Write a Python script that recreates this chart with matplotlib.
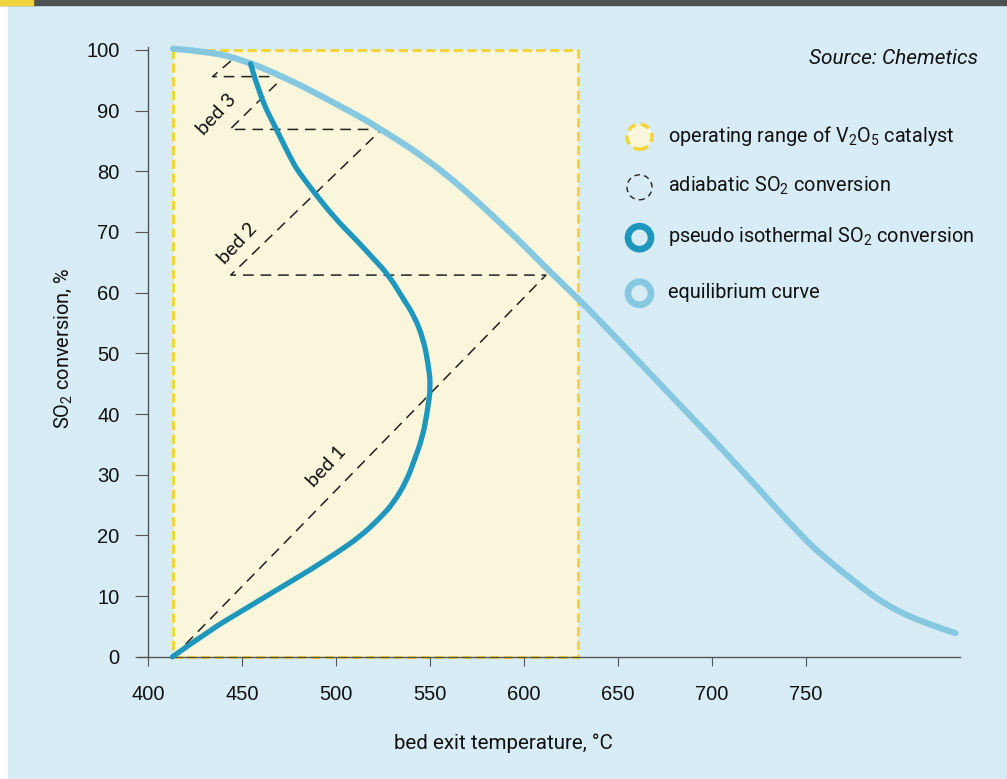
import matplotlib
matplotlib.use("Agg")
import matplotlib.pyplot as plt
from matplotlib.patches import Rectangle, Circle, PathPatch
from matplotlib.path import Path

labfont = 'Roboto'
plain = 'Liberation Sans'
bedfont = 'Lato'

# data
range_t = [413.5, 628.7]          # operating range of V2O5
range_x = [0, 100]

eq_t = [413.4, 432.9, 450.6, 471.9, 494.9, 523.2, 556.8, 592.2, 611.7, 628.5,
        640.0, 679.0, 714.4, 748.0, 762.1, 779.9, 792.3, 810.4, 829.5]
eq_x = [100.2, 99.7, 98.35, 95.6, 92.0, 87.2, 80.2, 70.2, 64.1, 59.1,
        55.5, 42.8, 31.3, 19.7, 15.8, 11.4, 8.6, 5.85, 3.9]

ps_t = [413, 432.9, 450.7, 468.3, 486.2, 500.2, 512.8, 523.2, 530.5, 537.4,
        541.1, 546.2, 548.6, 550.5, 549.0, 546.6, 541.8, 535.6, 528.0, 520.6,
        510.8, 500.2, 487.9, 480.7, 477.3, 468.5, 459.6, 454.6]
ps_x = [0, 4.4, 7.7, 11.0, 14.3, 17.1, 19.8, 22.8, 25.3, 28.9, 31.9, 36.3,
        40.5, 44.5, 48.4, 52.2, 56.1, 59.1, 62.9, 65.4, 68.7, 72.0, 76.7,
        79.7, 81.3, 86.8, 92.3, 97.7]

ad_t = [413.5, 611.7, 444, 524.3, 443.6, 472.3, 434.4, 445.7]
ad_x = [0, 62.9, 62.9, 86.9, 86.9, 95.6, 95.6, 98.6]

bed_labels = ['bed 1', 'bed 2', 'bed 3']
bed_t = [495, 447.5, 436.5]
bed_x = [31.4, 68.1, 89.3]

xticks = [400, 450, 500, 550, 600, 650, 700, 750]
yticks = [0, 10, 20, 30, 40, 50, 60, 70, 80, 90, 100]

bg = '#d8ecf5'
yellow = '#f2d53c'
dark_blue = '#1f96bb'
light_blue = '#86c8e0'


def smooth_path(xs, ys):
    # quadratic bezier through midpoints, the read points act as controls
    pts = list(zip(xs, ys))
    verts = [pts[0]]
    codes = [Path.MOVETO]
    for i in range(1, len(pts) - 1):
        mid = ((pts[i][0] + pts[i + 1][0]) / 2, (pts[i][1] + pts[i + 1][1]) / 2)
        if i == len(pts) - 2:
            mid = pts[-1]
        verts += [pts[i], mid]
        codes += [Path.CURVE3, Path.CURVE3]
    return Path(verts, codes)


fig = plt.figure(figsize=(10.07, 7.79), dpi=100, facecolor='white')
# page background and top bar
fig.patches.append(Rectangle((8/1007, 0), 1, 774/779, transform=fig.transFigure,
                             color=bg, zorder=-10))
fig.patches.append(Rectangle((0, 774/779), 1, 5/779, transform=fig.transFigure,
                             color='#4f5254', zorder=-9))
fig.patches.append(Rectangle((0, 774/779), 33/1007, 5/779, transform=fig.transFigure,
                             color=yellow, zorder=-8))

ax = fig.add_axes([0.1357, 0.1451, 0.8215, 0.822])
ax.set_facecolor('none')
ax.set_xlim(394, 834)
ax.set_ylim(-1.5, 104)

# operating range
ax.add_patch(Rectangle((range_t[0], range_x[0]), range_t[1] - range_t[0],
                       range_x[1] - range_x[0], facecolor='#faf6dc',
                       edgecolor=yellow, linewidth=2.2, linestyle=(0, (3, 1.5)),
                       zorder=1))

ax.plot(ad_t, ad_x, color='#222222', lw=1.1, ls=(0, (7, 4.5)), zorder=2)
ax.add_patch(PathPatch(smooth_path(eq_t, eq_x), facecolor='none',
                       edgecolor=light_blue, lw=4.5, capstyle='round',
                       joinstyle='round', zorder=3))
ax.add_patch(PathPatch(smooth_path(ps_t, ps_x), facecolor='none',
                       edgecolor=dark_blue, lw=3.8, capstyle='round',
                       joinstyle='round', zorder=4))

for lab, t, x in zip(bed_labels, bed_t, bed_x):
    ax.text(t, x, lab, rotation=47, ha='center', va='center', fontsize=14,
            family=bedfont, color='#111111', zorder=5)

# axes
for s in ['top', 'right']:
    ax.spines[s].set_visible(False)
ax.spines['left'].set_position(('data', 400))
ax.spines['bottom'].set_position(('data', 0))
ax.spines['left'].set_bounds(0, 100.5)
ax.spines['bottom'].set_bounds(394.7, 832)
for s in ['left', 'bottom']:
    ax.spines[s].set_color('#555555')
    ax.spines[s].set_linewidth(1.0)
ax.set_xticks(xticks)
ax.set_yticks(yticks)
ax.tick_params(axis='y', length=9.5, width=0.8, color='#555555', pad=11,
               labelsize=14.5)
ax.tick_params(axis='x', length=6.5, width=0.8, color='#555555', pad=14,
               labelsize=14.5)
for lb in ax.get_xticklabels() + ax.get_yticklabels():
    lb.set_family(plain)
    lb.set_color('#111111')

fig.text(503/1007, 1 - 743/779, 'bed exit temperature, °C', family=labfont,
         fontsize=14.8, ha='center', va='center', color='#111111')
fig.text(63/1007, 1 - 348/779, r'SO$_\mathregular{2}$ conversion, %', family=labfont,
         fontsize=14.4, rotation=90, ha='center', va='center', color='#111111')

fig.text(978/1007, 1 - 58/779, 'Source: Chemetics', family=labfont, style='italic',
         fontsize=15, ha='right', va='center', color='#111111')

# legend drawn by hand
leg_y = [136.7, 187.3, 237.7, 293.3]
leg_text = [r'operating range of V$_\mathregular{2}$O$_\mathregular{5}$ catalyst',
            r'adiabatic SO$_\mathregular{2}$ conversion',
            r'pseudo isothermal SO$_\mathregular{2}$ conversion',
            'equilibrium curve']
leg_style = [dict(facecolor='#faf6dc', edgecolor=yellow, lw=2.6, ls=(0, (2.5, 1.5))),
             dict(facecolor='none', edgecolor='#222222', lw=1.0, ls=(0, (4, 3))),
             dict(facecolor='none', edgecolor=dark_blue, lw=4.8, ls='-'),
             dict(facecolor='none', edgecolor=light_blue, lw=4.8, ls='-')]
for y, txt, st in zip(leg_y, leg_text, leg_style):
    r = 11.5 if st['lw'] > 4 else 12.5
    fig.patches.append(Circle((639.5 / 100, (779 - y) / 100), r / 100,
                              transform=fig.dpi_scale_trans, facecolor=st['facecolor'],
                              edgecolor=st['edgecolor'], linewidth=st['lw'],
                              linestyle=st['ls'], zorder=5))
    fig.text(668/1007, 1 - (y - 1)/779, txt, family=labfont, fontsize=14.3,
             ha='left', va='center', color='#111111')

fig.savefig('out.png', dpi=100, facecolor=fig.get_facecolor())
